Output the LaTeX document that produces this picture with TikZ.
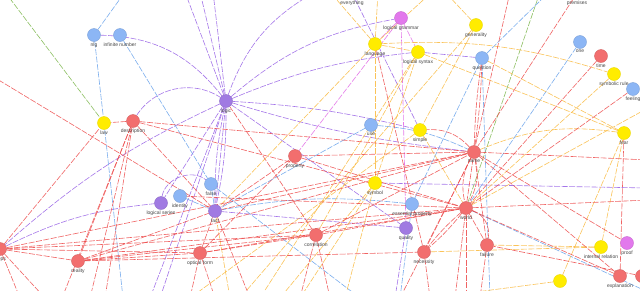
\documentclass[tikz,border=0pt]{standalone}
\usepackage{fontspec}
\setmainfont{Liberation Sans}
\pgfdeclarelayer{bg}
\pgfsetlayers{bg,main}
\definecolor{cr}{RGB}{242,110,110}
\definecolor{cy}{RGB}{255,236,0}
\definecolor{cb}{RGB}{140,182,245}
\definecolor{cp}{RGB}{160,122,226}
\definecolor{cm}{RGB}{226,120,236}
\definecolor{ered}{RGB}{238,72,72}
\definecolor{eora}{RGB}{250,185,60}
\definecolor{eblu}{RGB}{100,160,235}
\definecolor{epur}{RGB}{150,95,230}
\definecolor{emag}{RGB}{225,100,230}
\definecolor{egrn}{RGB}{120,180,70}
\definecolor{lab}{RGB}{70,70,70}
\begin{document}
\begin{tikzpicture}[x=1pt,y=-1pt,
  nd/.style={circle,minimum size=13pt,inner sep=0pt,line width=0.4pt},
  nr/.style={nd,fill=cr,draw=cr!88!black},
  ny/.style={nd,fill=cy,draw=cy!92!black},
  nb/.style={nd,fill=cb,draw=cb!88!black},
  np/.style={nd,fill=cp,draw=cp!88!black},
  nm/.style={nd,fill=cm,draw=cm!88!black},
  lb/.style={font=\fontsize{5}{6}\selectfont,text=lab,inner sep=0.3pt,label distance=0.6pt},
  e/.style={line width=0.6pt,dash pattern=on 6pt off 1.5pt,opacity=0.85},
  er/.style={e,draw=ered},
  eo/.style={e,draw=eora},
  eb/.style={e,draw=eblu},
  ep/.style={e,draw=epur},
  em/.style={e,draw=emag},
  eg/.style={e,draw=egrn}]
\useasboundingbox (0,0) rectangle (640,290);
% nodes
\node[nb,label={[lb]below:nlg}] (nlg) at (94,35) {};
\node[nb,label={[lb]below:infinite number}] (inf) at (120,35) {};
\node[ny,label={[lb]below:law}] (law) at (104,123) {};
\node[nr,label={[lb]below:description}] (desc) at (133,121) {};
\node[np,label={[lb]below:logic}] (logic) at (226,101) {};
\node[np,label={[lb]below:everything}] (every) at (352,-7) {};
\node[nm,label={[lb]below:logical grammar}] (lgram) at (401,18) {};
\node[ny,label={[lb]below:language}] (lang) at (375,44) {};
\node[ny,label={[lb]below:logical syntax}] (lsyn) at (418,52) {};
\node[ny,label={[lb]below:generality}] (gen) at (476,25) {};
\node[nb,label={[lb]below:question}] (quest) at (482,58) {};
\node[nr,label={[lb]below:premises}] (prem) at (577,-7) {};
\node[nb,label={[lb]below:one}] (one) at (580,42) {};
\node[nr,label={[lb]below:time}] (time) at (601,56) {};
\node[ny,label={[lb]below:symbolic rule}] (symr) at (614,74) {};
\node[nb,label={[lb]below:feeling}] (feel) at (633,89) {};
\node[ny,label={[lb]below:fear}] (fear) at (624,133) {};
\node[nb,label={[lb]below:use}] (use) at (371,125) {};
\node[ny,label={[lb]below:simple}] (simple) at (420,130) {};
\node[nr,label={[lb]below:name}] (name) at (474,152) {};
\node[ny,label={[lb]below:symbol}] (symbol) at (375,183) {};
\node[nr,label={[lb]below:property}] (prop) at (295,156) {};
\node[np,label={[lb]below:logical series}] (lser) at (161,203) {};
\node[nb,label={[lb]below:identity}] (ident) at (180,196) {};
\node[nb,label={[lb]below:false}] (false) at (211,184) {};
\node[np,label={[lb]below:fact}] (fact) at (215,211) {};
\node[nr,label={[lb]below:steps}] (ps) at (0,249) {};
\node[nr,label={[lb]below:reality}] (real) at (78,261) {};
\node[nr,label={[lb]below:optical form}] (opt) at (200,253) {};
\node[nr,label={[lb]below:correlation}] (corr) at (316,235) {};
\node[nb,label={[lb]below:essential property}] (essp) at (412,204) {};
\node[np,label={[lb]below:quality}] (qual) at (406,228) {};
\node[nr,label={[lb]below:world}] (world) at (466,208) {};
\node[nr,label={[lb]below:necessity}] (nec) at (424,252) {};
\node[nr,label={[lb]below:failure}] (fail) at (487,245) {};
\node[ny,label={[lb]below:internal relation}] (intr) at (601,247) {};
\node[nm,label={[lb]below:proof}] (proof) at (627,243) {};
\node[ny] (yel) at (560,281) {};
\node[nr,label={[lb]below:explanation}] (expl) at (620,276) {};
\node[nr] (rest) at (642,276) {};
% free ends
\coordinate (t1) at (185,-8); \coordinate (t2) at (200,-8); \coordinate (t3) at (213,-8);
\coordinate (t4) at (315,-8); \coordinate (t5) at (125,-8); \coordinate (tg) at (5,-8);
\coordinate (t6) at (378,-8); \coordinate (t7) at (432,-8); \coordinate (t8) at (445,-8);
\coordinate (t9) at (510,-8); \coordinate (t10) at (549,-8); \coordinate (t11) at (540,-8);
\coordinate (t12) at (330,-8);
\coordinate (l1) at (-8,76);
\coordinate (b1) at (90,298); \coordinate (b2) at (123,298); \coordinate (b3) at (150,298);
\coordinate (b4) at (160,298); \coordinate (b5) at (190,298); \coordinate (b6) at (230,298);
\coordinate (b7) at (260,298); \coordinate (b8) at (280,298); \coordinate (b9) at (330,298);
\coordinate (b10) at (400,298); \coordinate (b11) at (430,298); \coordinate (b12) at (466,298);
\coordinate (b13) at (490,298); \coordinate (b14) at (300,298); \coordinate (b15) at (45,298);
\coordinate (b16) at (20,298); \coordinate (b17) at (395,298); \coordinate (b18) at (455,298);
\coordinate (b19) at (480,298); \coordinate (b20) at (345,298); \coordinate (b21) at (62,298);
\coordinate (b22) at (105,298); \coordinate (b23) at (215,298); \coordinate (b24) at (250,298);
\coordinate (b25) at (360,298); \coordinate (b26) at (240,298);
\coordinate (r1) at (648,108); \coordinate (r2) at (648,160); \coordinate (r3) at (648,188);
\coordinate (r4) at (648,200); \coordinate (r5) at (648,292);
\begin{pgfonlayer}{bg}
\fill[white] (0,0) rectangle (640,290);
\clip (0,0) rectangle (640,290);
% purple
\draw[ep] (logic) -- (t1); \draw[ep] (logic) -- (t2); \draw[ep] (logic) -- (t3);
\draw[ep] (nlg) to[bend left=25] (logic);
\draw[ep] (desc) to[bend left=45] (logic);
\draw[ep] (logic) to[bend left=20] (t4);
\draw[ep] (logic) to[bend left=15] (lgram);
\draw[ep] (logic) to[bend left=8] (lsyn);
\draw[ep] (logic) to[bend left=5] (simple);
\draw[ep] (logic) to[bend right=5] (name);
\draw[ep] (logic) -- (fact); \draw[ep] (logic) to[bend left=6] (fact); \draw[ep] (logic) to[bend right=6] (fact);
\draw[ep] (logic) -- (lser); \draw[ep] (logic) to[bend right=8] (ps);
\draw[ep] (logic) -- (b3); \draw[ep] (logic) -- (b4);
\draw[ep] (logic) -- (qual); \draw[ep] (fact) -- (qual);
\draw[ep] (lsyn) -- (quest);
\draw[ep] (every) -- (simple);
\draw[ep] (lser) to[bend left=60] (false);
\draw[ep] (ps) to[bend left=10] (lser);
\draw[ep] (symbol) -- (r3);
\draw[ep] (qual) -- (b17);
% magenta
\draw[em] (lgram) -- (lang); \draw[em] (lgram) -- (lsyn);
\draw[em] (lgram) -- (prop); \draw[em] (lgram) -- (qual);
% green
\draw[eg] (tg) -- (law); \draw[eg] (t11) -- (world);
% blue
\draw[eb] (nlg) -- (t5); \draw[eb] (nlg) -- (law); \draw[eb] (law) -- (b2);
\draw[eb] (inf) -- (false); \draw[eb] (false) -- (fact); \draw[eb] (ident) -- (fact);
\draw[eb] (use) -- (fact); \draw[eb] (use) to[bend left=10] (name);
\draw[eb] (quest) -- (t10); \draw[eb] (quest) -- (essp); \draw[eb] (one) -- (world);
\draw[eb] (essp) to[bend right=8] (fact);
\draw[eb] (essp) -- (b10); \draw[eb] (quest) -- (b13); \draw[eb] (world) -- (r5);
\draw[eb] (false) -- (b25);
% orange
\draw[eo] (lang) -- (t12); \draw[eo] (lang) -- (t6); \draw[eo] (lang) -- (t7);
\draw[eo] (lang) -- (fact); \draw[eo] (lang) -- (lsyn); \draw[eo] (lang) -- (symbol);
\draw[eo] (lang) to[bend left=10] (symr);
\draw[eo] (lsyn) -- (fear); \draw[eo] (quest) -- (fear); \draw[eo] (lsyn) -- (corr); \draw[eo] (lsyn) -- (b7);
\draw[eo] (gen) -- (simple); \draw[eo] (gen) -- (t8);
\draw[eo] (simple) -- (world); \draw[eo] (simple) -- (b5);
\draw[eo] (symbol) -- (lsyn); \draw[eo] (symbol) -- (b8); \draw[eo] (symbol) -- (b14); \draw[eo] (symbol) -- (b20);
\draw[eo] (symr) -- (world);
\draw[eo] (fear) -- (yel); \draw[eo] (fear) to[bend right=15] (name);
\draw[eo] (r1) -- (world);
\draw[eo] (intr) -- (fail); \draw[eo] (intr) -- (nec); \draw[eo] (intr) -- (fear);
\draw[eo] (yel) -- (b11); \draw[eo] (fact) -- (b6); \draw[eo] (gen) -- (b26);
% red
\draw[er] (desc) -- (law); \draw[er] (desc) -- (name); \draw[er] (desc) -- (real);
\draw[er] (desc) -- (b1); \draw[er] (desc) -- (b21); \draw[er] (desc) -- (b22);
\draw[er] (desc) -- (fact); \draw[er] (desc) -- (world); \draw[er] (l1) -- (fact);
\draw[er] (ps) -- (law); \draw[er] (ps) -- (real); \draw[er] (ps) -- (opt); \draw[er] (ps) -- (corr);
\draw[er] (ps) -- (name); \draw[er] (ps) -- (world); \draw[er] (ps) -- (b16); \draw[er] (ps) -- (b15);
\draw[er] (real) -- (opt); \draw[er] (real) -- (fact); \draw[er] (real) -- (world);
\draw[er] (real) -- (corr); \draw[er] (real) -- (name); \draw[er] (real) -- (nec);
\draw[er] (opt) -- (fact); \draw[er] (opt) -- (prop); \draw[er] (opt) -- (world); \draw[er] (opt) -- (corr);
\draw[er] (opt) -- (b5); \draw[er] (opt) -- (b23); \draw[er] (fact) -- (b24); \draw[er] (fact) -- (name);
\draw[er] (corr) -- (logic); \draw[er] (corr) -- (world); \draw[er] (corr) -- (name); \draw[er] (corr) -- (b9);
\draw[er] (corr) -- (b14);
\draw[er] (prop) -- (name); \draw[er] (prop) -- (world); \draw[er] (prop) -- (fact);
\draw[er] (name) to[bend left=3] (quest); \draw[er] (name) to[bend right=3] (quest);
\draw[er] (prem) -- (name); \draw[er] (t9) -- (name);
\draw[er] (name) to[bend left=20] (world); \draw[er] (name) to[bend right=20] (world); \draw[er] (name) -- (world);
\draw[er] (name) -- (fail); \draw[er] (name) -- (r2); \draw[er] (name) -- (proof); \draw[er] (name) -- (expl);
\draw[er] (name) to[bend right=25] (simple); \draw[er] (name) -- (nec); \draw[er] (name) -- (b10);
\draw[er] (world) to[bend left=5] (nec); \draw[er] (world) to[bend right=5] (nec);
\draw[er] (world) -- (fail); \draw[er] (world) to[bend left=40] (fail);
\draw[er] (world) -- (expl); \draw[er] (world) -- (r4); \draw[er] (world) -- (b12); \draw[er] (world) -- (b18);
\draw[er] (world) -- (ident);
\draw[er] (time) -- (world); \draw[er] (feel) -- (world);
\draw[er] (nec) -- (lang); \draw[er] (nec) -- (b11);
\draw[er] (fail) -- (b19); \draw[er] (expl) -- (fear); \draw[er] (rest) -- (fail);
\end{pgfonlayer}
\end{tikzpicture}
\end{document}
